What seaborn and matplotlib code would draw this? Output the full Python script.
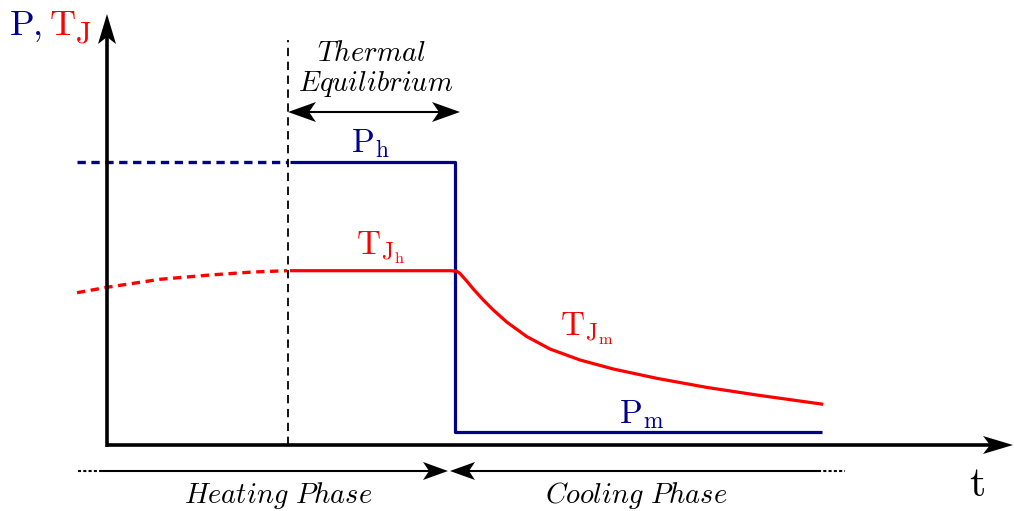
import matplotlib
matplotlib.use("Agg")
import matplotlib.pyplot as plt
import seaborn as sns

sns.set_theme(style="white")
plt.rcParams["mathtext.fontset"] = "cm"
plt.rcParams["lines.scale_dashes"] = False
plt.rcParams["lines.solid_capstyle"] = "butt"
plt.rcParams["lines.dash_capstyle"] = "butt"
plt.rcParams["lines.solid_joinstyle"] = "round"

NAVY = "#00008b"
RED = "#ff0000"
BLACK = "black"

# Power: level before thermal equilibrium (dashed), then heating step and cooling step
t_p_pre = [-30, 181]
p_pre = [283, 283]
t_p = [183, 348, 348, 715]
p = [283, 283, 13, 13]

# Junction temperature: rising part (dashed), plateau, and cooling decay
t_tj_pre = [-30, 0, 53, 103, 146, 180]
tj_pre = [152.3, 157.7, 165.7, 170, 173, 174.3]
t_tj = [183, 343, 349.7, 353, 359.7, 366.3, 376.3, 386.3, 399.7, 419.7, 443,
        473, 506.3, 549.7, 599.7, 649.7, 716.3]
tj = [174.3, 174.3, 173.8, 171.5, 164, 156, 145, 135, 123, 108.5, 96,
      85, 76, 66.7, 57.6, 50, 40.7]

# Phase boundaries along the time axis
t_equilibrium = 181
t_switch = 348

fig = plt.figure(figsize=(10.14, 5.11), dpi=100)
ax = fig.add_axes([0, 0, 1, 1])
ax.set_xlim(-107, 907)
ax.set_ylim(-66, 445)
ax.axis("off")


def stealth(tip, direction, length=28, half_width=9.5, indent=7, color=BLACK):
    tx, ty = tip
    dx, dy = direction
    nx, ny = -dy, dx
    bx, by = tx - dx * length, ty - dy * length
    cx, cy = tx - dx * (length - indent), ty - dy * (length - indent)
    xs = [tx, bx + nx * half_width, cx, bx - nx * half_width]
    ys = [ty, by + ny * half_width, cy, by - ny * half_width]
    ax.fill(xs, ys, color=color, lw=0, zorder=6)


# Axes with arrowheads
ax.plot([0, 0], [-1.5, 410], color=BLACK, lw=2.6, zorder=5)
stealth((0, 431), (0, 1), length=30, half_width=9, indent=7)
ax.plot([-1.5, 885], [0, 0], color=BLACK, lw=2.6, zorder=5)
stealth((906, 0), (1, 0), length=30, half_width=9, indent=7)

# Thermal equilibrium marker
ax.plot([t_equilibrium, t_equilibrium], [0, 405], color=BLACK, lw=1.3,
        linestyle=(0, (6, 4)), zorder=3)

# Power curve
sns.lineplot(x=t_p_pre, y=p_pre, sort=False, estimator=None, ax=ax,
             color=NAVY, lw=2.4, linestyle=(0, (6, 4)))
sns.lineplot(x=t_p, y=p, sort=False, estimator=None, ax=ax,
             color=NAVY, lw=2.3)

# Junction temperature curve
sns.lineplot(x=t_tj_pre, y=tj_pre, sort=False, estimator=None, ax=ax,
             color=RED, lw=2.4, linestyle=(0, (6, 4)))
sns.lineplot(x=t_tj, y=tj, sort=False, estimator=None, ax=ax,
             color=RED, lw=2.3)

# Thermal equilibrium double arrow
y_eq = 333
ax.plot([t_equilibrium + 15, 353 - 15], [y_eq, y_eq], color=BLACK, lw=1.5)
stealth((t_equilibrium, y_eq), (-1, 0), length=28, half_width=10, indent=7)
stealth((353, y_eq), (1, 0), length=28, half_width=10, indent=7)
ax.text(264, 392, r"$Thermal$", fontsize=20.5, ha="center", va="center", color=BLACK)
ax.text(269, 361, r"$Equilibrium$", fontsize=20.5, ha="center", va="center", color=BLACK)

# Phase arrows below the time axis
y_ph = -26
ax.plot([-29, -5], [y_ph, y_ph], color=BLACK, lw=1.5, linestyle=(0, (2.2, 1.6)))
ax.plot([-5, 330], [y_ph, y_ph], color=BLACK, lw=1.5)
stealth((341, y_ph), (1, 0), length=25, half_width=9, indent=6)
stealth((343, y_ph), (-1, 0), length=25, half_width=9, indent=6)
ax.plot([354, 711], [y_ph, y_ph], color=BLACK, lw=1.5)
ax.plot([711, 738], [y_ph, y_ph], color=BLACK, lw=1.5, linestyle=(0, (2.2, 1.6)))
ax.text(171, -50, r"$Heating\ Phase$", fontsize=20.5, ha="center", va="center", color=BLACK)
ax.text(529, -50, r"$Cooling\ Phase$", fontsize=20.5, ha="center", va="center", color=BLACK)

# Curve labels
ax.text(263, 302, r"$\mathrm{P}_{\mathrm{h}}$", fontsize=24, ha="center", va="center", color=NAVY)
ax.text(274, 197, r"$\mathrm{T}_{\mathrm{J}_{\mathrm{h}}}$", fontsize=24, ha="center", va="center", color=RED)
ax.text(480, 116, r"$\mathrm{T}_{\mathrm{J}_{\mathrm{m}}}$", fontsize=24, ha="center", va="center", color=RED)
ax.text(535, 31, r"$\mathrm{P}_{\mathrm{m}}$", fontsize=24, ha="center", va="center", color=NAVY)

# Axis labels
ax.text(-98, 410, r"$\mathrm{P}$", fontsize=26, ha="left", va="baseline", color=NAVY)
ax.text(-75, 410, r"$,$", fontsize=26, ha="left", va="baseline", color=NAVY)
ax.text(-58, 410, r"$\mathrm{T}$", fontsize=26, ha="left", va="baseline", color=RED)
ax.text(-32, 403, r"$\mathrm{J}$", fontsize=22, ha="left", va="baseline", color=RED)
ax.text(870, -39, r"$\mathrm{t}$", fontsize=30, ha="center", va="center", color=BLACK)

fig.savefig("out.png", dpi=100)
